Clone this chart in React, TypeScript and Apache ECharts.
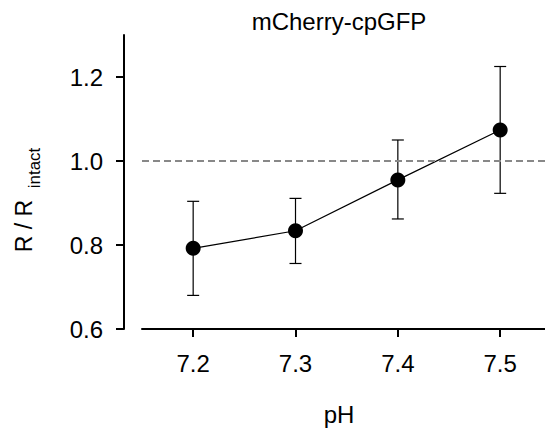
import React, { useEffect, useRef } from 'react';
import * as echarts from 'echarts';

const phValues = [7.2, 7.3, 7.4, 7.5];
const ratioMeans = [0.792, 0.834, 0.955, 1.074];
const errLow = [0.68, 0.756, 0.862, 0.923];
const errHigh = [0.904, 0.911, 1.05, 1.225];
const yTicks = [0.6, 0.8, 1.0, 1.2];
const xTicks = [7.2, 7.3, 7.4, 7.5];
const referenceLevel = 1.0;
const titleText = 'mCherry-cpGFP';
const xTitle = 'pH';
const yTitleMain = 'R / R';
const yTitleSub = 'intact';

const FONT = '"Liberation Sans", Arial, Helvetica, sans-serif';

export default function App() {
  const ref = useRef<HTMLDivElement>(null);
  useEffect(() => {
    if (!ref.current) return;
    const chart = echarts.init(ref.current, null, { renderer: 'svg' });
    const axisCommon = {
      type: 'value' as const,
      splitLine: { show: false },
      axisLine: { show: true, onZero: false, lineStyle: { color: '#000', width: 2 } },
    };
    chart.setOption({
      animation: false,
      backgroundColor: '#fff',
      grid: { left: 142, top: 35, bottom: 103, right: 0, containLabel: false },
      xAxis: {
        ...axisCommon,
        min: 7.15,
        max: 7.5438,
        axisTick: { show: true, length: 8, customValues: xTicks, lineStyle: { color: '#000', width: 2 } },
        axisLabel: {
          customValues: xTicks,
          formatter: (v: number) => v.toFixed(1),
          fontSize: 24,
          color: '#000',
          margin: 22,
          fontFamily: FONT,
        },
      },
      yAxis: {
        ...axisCommon,
        min: 0.6,
        max: 1.3,
        offset: 18,
        axisTick: { show: true, length: 8, customValues: yTicks, lineStyle: { color: '#000', width: 2 } },
        axisLabel: {
          customValues: yTicks,
          formatter: (v: number) => v.toFixed(1),
          fontSize: 24,
          color: '#000',
          margin: 21,
          fontFamily: FONT,
        },
      },
      graphic: [
        {
          type: 'text', x: 339, y: 21,
          style: { text: titleText, align: 'center', verticalAlign: 'middle', fontSize: 24, fontFamily: FONT, fill: '#000' },
        },
        {
          type: 'text', x: 339, y: 414,
          style: { text: xTitle, align: 'center', verticalAlign: 'middle', fontSize: 24, fontFamily: FONT, fill: '#000' },
        },
        {
          type: 'text', x: 24, y: 226, rotation: Math.PI / 2,
          style: { text: yTitleMain, align: 'center', verticalAlign: 'middle', fontSize: 23, fontFamily: FONT, fill: '#000' },
        },
        {
          type: 'text', x: 34, y: 168, rotation: Math.PI / 2,
          style: { text: yTitleSub, align: 'center', verticalAlign: 'middle', fontSize: 17, fontFamily: FONT, fill: '#000' },
        },
      ],
      series: [
        {
          type: 'custom',
          z: 1,
          silent: true,
          data: phValues.map((x, i) => [x, errLow[i], errHigh[i]]),
          encode: { x: 0, y: [1, 2] },
          renderItem: (params: any, api: any) => {
            const x = api.value(0);
            const lo = api.coord([x, api.value(1)]);
            const hi = api.coord([x, api.value(2)]);
            const w = 6;
            const st = { stroke: '#000', lineWidth: 1.2 };
            return {
              type: 'group',
              children: [
                { type: 'line', shape: { x1: lo[0], y1: lo[1], x2: hi[0], y2: hi[1] }, style: st },
                { type: 'line', shape: { x1: lo[0] - w, y1: lo[1], x2: lo[0] + w, y2: lo[1] }, style: st },
                { type: 'line', shape: { x1: hi[0] - w, y1: hi[1], x2: hi[0] + w, y2: hi[1] }, style: st },
              ],
            };
          },
        },
        {
          type: 'line',
          z: 3,
          data: phValues.map((x, i) => [x, ratioMeans[i]]),
          symbol: 'circle',
          symbolSize: 15,
          itemStyle: { color: '#000' },
          lineStyle: { color: '#000', width: 1.2 },
          markLine: {
            silent: true,
            symbol: ['none', 'none'],
            label: { show: false },
            lineStyle: { color: '#888', type: [7, 4], width: 2 },
            data: [{ yAxis: referenceLevel }],
          },
        },
      ],
    });
    return () => chart.dispose();
  }, []);
  return <div ref={ref} style={{ position: 'fixed', left: 0, top: 0, width: 545, height: 432 }} />;
}
